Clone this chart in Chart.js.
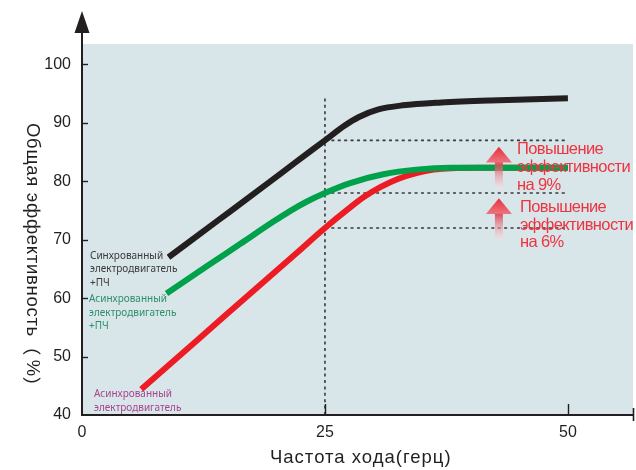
<!DOCTYPE html>
<html>
<head>
<meta charset="utf-8">
<script src="https://cdn.jsdelivr.net/npm/chart.js@4.4.1/dist/chart.umd.min.js"></script>
<style>
  html, body { margin: 0; padding: 0; background: #ffffff; }
  canvas { display: block; }
</style>
</head>
<body>
<canvas id="chart" width="636" height="470"></canvas>
<script>
// Overall efficiency (%) against running frequency (Hz) for three drive setups
const syncVfdHz   = [8.9, 14, 19, 22, 25, 27, 28.5, 30.5, 33, 37, 42, 50];
const syncVfdEff  = [67.0, 73.3, 79.5, 83.3, 87.0, 89.5, 91.0, 92.3, 93.0, 93.5, 93.85, 94.2];

const asyncVfdHz  = [8.7, 12.8, 16.3, 19.7, 21.4, 23.1, 25, 27.6, 31, 34.4, 38, 44, 50];
const asyncVfdEff = [60.8, 65.4, 69.3, 73.1, 74.9, 76.5, 78.0, 79.7, 81.2, 82.0, 82.3, 82.3, 82.3];

const asyncHz  = [6.1, 12, 18, 22, 25, 27.5, 29, 30.7, 32.5, 34.4, 36.2, 38, 41, 50];
const asyncEff = [44.4, 53.0, 61.8, 67.6, 72.0, 75.4, 77.3, 79.0, 80.4, 81.4, 82.0, 82.25, 82.3, 82.3];

// Reference frequency and efficiency levels marked with dotted guides
const guideHz = 25;
const guideEndHz = 50;
const guideLevels = [87, 78, 72];
const guideTop = 94.2;

// Axis ticks
const xTickValues = [0, 25, 50];
const yTickValues = [40, 50, 60, 70, 80, 90, 100];

// Text
const seriesLabels = [
  ['Синхрованный', 'электродвигатель', '+ПЧ'],
  ['Асинхрованный', 'электродвигатель', '+ПЧ'],
  ['Асинхрованный', 'электродвигатель']
];
const gainLabels = [
  ['Повышение', 'эффективности', 'на 9%'],
  ['Повышение', 'эффективности', 'на 6%']
];
const xTitle = 'Частота хода(герц)';
const yTitle = 'Общая эффективность';
const yTitleUnit = ['（', '%', '）'];

const toPoints = (xs, ys) => xs.map((x, i) => ({ x: x, y: ys[i] }));

const INK = '#231f20';
const PLOT_BG = '#d8e5e9';
const SANS = '"Liberation Sans", Arial, sans-serif';

function guideSet(points) {
  return {
    data: points,
    borderColor: '#3a3a3a',
    borderWidth: 1.6,
    borderDash: [3, 3.4],
    pointRadius: 0,
    tension: 0,
    fill: false
  };
}

const curveStyle = {
  borderWidth: 6,
  borderCapStyle: 'butt',
  borderJoinStyle: 'round',
  pointRadius: 0,
  cubicInterpolationMode: 'monotone',
  fill: false
};

const datasets = [
  Object.assign({ data: toPoints(syncVfdHz, syncVfdEff), borderColor: '#231f20' }, curveStyle),
  Object.assign({ data: toPoints(asyncVfdHz, asyncVfdEff), borderColor: '#00a14b' }, curveStyle),
  Object.assign({ data: toPoints(asyncHz, asyncEff), borderColor: '#ed1c24' }, curveStyle),
  guideSet([{ x: guideHz, y: 40 }, { x: guideHz, y: guideTop }])
].concat(guideLevels.map(v => guideSet([{ x: guideHz, y: v }, { x: guideEndHz, y: v }])));

// Plot background
const backgroundPlugin = {
  id: 'plotBackground',
  beforeDraw(chart) {
    const { ctx, chartArea: a } = chart;
    ctx.save();
    ctx.fillStyle = PLOT_BG;
    ctx.fillRect(a.left, a.top, a.right - a.left - 1, a.bottom - a.top);
    ctx.restore();
  }
};

function drawGainArrow(ctx, cx, tipY, baseY, endY) {
  const headW = 26, shaftW = 8;
  let g = ctx.createLinearGradient(0, baseY, 0, endY);
  g.addColorStop(0, 'rgba(222,60,74,0.88)');
  g.addColorStop(1, 'rgba(252,228,231,0.35)');
  ctx.fillStyle = g;
  ctx.fillRect(cx - shaftW / 2, baseY - 0.5, shaftW, endY - baseY);
  g = ctx.createLinearGradient(0, tipY, 0, baseY);
  g.addColorStop(0, 'rgba(232,36,48,0.95)');
  g.addColorStop(1, 'rgba(238,106,116,0.9)');
  ctx.fillStyle = g;
  ctx.beginPath();
  ctx.moveTo(cx, tipY);
  ctx.lineTo(cx + headW / 2, baseY);
  ctx.lineTo(cx - headW / 2, baseY);
  ctx.closePath();
  ctx.fill();
}

// Axes, arrows, annotations and titles
const decorPlugin = {
  id: 'decor',
  afterDatasetsDraw(chart) {
    const { ctx, scales: { x, y } } = chart;
    ctx.save();
    // efficiency gain arrows and captions
    const ax = x.getPixelForValue(42.9);
    drawGainArrow(ctx, ax, y.getPixelForValue(85.9), y.getPixelForValue(83.2), y.getPixelForValue(78.6));
    drawGainArrow(ctx, ax, y.getPixelForValue(77.1), y.getPixelForValue(74.4), y.getPixelForValue(69.9));
    ctx.fillStyle = '#ee3440';
    ctx.font = '16.5px ' + SANS;
    ctx.letterSpacing = '-0.6px';
    ctx.textBaseline = 'middle';
    ctx.textAlign = 'left';
    gainLabels[0].forEach((t, i) => ctx.fillText(t, ax + 18, 149 + i * 18.4));
    gainLabels[1].forEach((t, i) => ctx.fillText(t, ax + 21, 207.5 + i * 17.6));

    // series captions
    ctx.letterSpacing = '0px';
    ctx.font = '10px "Noto Sans", "DejaVu Sans", sans-serif';
    const capColors = ['#3a3a3a', '#2f8f6c', '#a8458f'];
    const capPos = [[90, 256], [89, 299.5], [94, 394.5]];
    seriesLabels.forEach((lines, k) => {
      ctx.fillStyle = capColors[k];
      lines.forEach((t, i) => ctx.fillText(t, capPos[k][0], capPos[k][1] + i * 13.4));
    });
    ctx.restore();
  },
  afterDraw(chart) {
    const { ctx, chartArea: a, scales: { x, y } } = chart;
    ctx.save();
    ctx.strokeStyle = INK;
    ctx.fillStyle = INK;
    // y axis with arrow head
    ctx.lineWidth = 2;
    ctx.beginPath();
    ctx.moveTo(a.left, a.bottom + 1);
    ctx.lineTo(a.left, 30);
    ctx.stroke();
    ctx.beginPath();
    ctx.moveTo(a.left, 11);
    ctx.lineTo(a.left + 7.5, 33);
    ctx.lineTo(a.left - 7.5, 33);
    ctx.closePath();
    ctx.fill();
    // x axis with end stop
    ctx.beginPath();
    ctx.moveTo(a.left - 1, a.bottom);
    ctx.lineTo(a.right, a.bottom);
    ctx.stroke();
    ctx.lineWidth = 1.6;
    ctx.beginPath();
    ctx.moveTo(a.right - 0.5, a.bottom - 7);
    ctx.lineTo(a.right - 0.5, a.bottom + 6);
    ctx.stroke();
    // tick marks
    ctx.lineWidth = 1.4;
    yTickValues.slice(1).forEach(v => {
      const p = Math.round(y.getPixelForValue(v)) + 0.5;
      ctx.beginPath();
      ctx.moveTo(a.left, p);
      ctx.lineTo(a.left + 6, p);
      ctx.stroke();
    });
    xTickValues.slice(1).forEach(v => {
      const p = Math.round(x.getPixelForValue(v)) + 0.5;
      ctx.beginPath();
      ctx.moveTo(p, a.bottom);
      ctx.lineTo(p, a.bottom - 11);
      ctx.stroke();
    });
    // axis titles
    ctx.fillStyle = INK;
    ctx.textBaseline = 'middle';
    ctx.textAlign = 'left';
    ctx.font = '18.5px ' + SANS;
    ctx.letterSpacing = '1px';
    ctx.fillText(xTitle, 270, 458);
    ctx.translate(32, 0);
    ctx.rotate(Math.PI / 2);
    ctx.letterSpacing = '0.7px';
    ctx.fillText(yTitle, 123, 0);
    ctx.letterSpacing = '0px';
    ctx.textAlign = 'center';
    ctx.font = '18.5px "Noto Sans CJK SC", ' + SANS;
    ctx.fillText(yTitleUnit[0], 346, 0);
    ctx.font = '18.5px ' + SANS;
    ctx.fillText(yTitleUnit[1], 368, 0);
    ctx.font = '18.5px "Noto Sans CJK SC", ' + SANS;
    ctx.fillText(yTitleUnit[2], 386, 0);
    ctx.restore();
  }
};

new Chart(document.getElementById('chart'), {
  type: 'line',
  data: { datasets: datasets },
  options: {
    responsive: false,
    animation: false,
    devicePixelRatio: 1,
    layout: { padding: { top: 44, right: 2, left: 0, bottom: 0 } },
    plugins: { legend: { display: false }, tooltip: { enabled: false } },
    scales: {
      x: {
        type: 'linear',
        min: 0,
        max: 56.8,
        border: { display: false },
        grid: { display: false, drawTicks: false },
        afterBuildTicks: s => { s.ticks = xTickValues.map(v => ({ value: v })); },
        afterFit: s => { s.height = 55; },
        ticks: {
          padding: 8,
          color: INK,
          font: { family: SANS, size: 16 },
          callback: v => String(v)
        }
      },
      y: {
        type: 'linear',
        min: 40,
        max: 103.5,
        border: { display: false },
        grid: { display: false, drawTicks: false },
        afterBuildTicks: s => { s.ticks = yTickValues.map(v => ({ value: v })); },
        afterFit: s => { s.width = 82; },
        ticks: {
          padding: 11,
          color: INK,
          font: { family: SANS, size: 16 },
          callback: v => String(v)
        }
      }
    }
  },
  plugins: [backgroundPlugin, decorPlugin]
});
</script>
</body>
</html>
